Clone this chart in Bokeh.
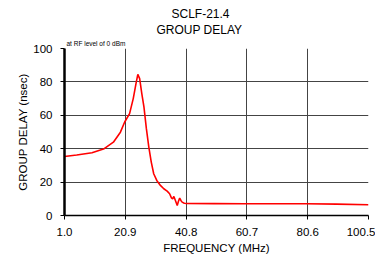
from bokeh.plotting import figure
from bokeh.models import Range1d, FixedTicker, Title, CustomJSTickFormatter
from bokeh.embed import file_html
from bokeh.resources import INLINE

freq = [1.0, 5.0, 10.0, 14.0, 17.0, 19.3, 20.7, 22.3, 23.5, 24.4, 25.0, 25.6, 26.3, 27.0,
        27.8, 28.6, 29.4, 30.2, 31.2, 32.4, 33.5, 34.6, 35.4, 36.0, 36.4, 36.8, 37.3,
        37.9, 38.3, 38.7, 39.1, 39.5, 40.2, 40.9, 50.0, 60.0, 70.0, 80.0, 90.0, 100.5]
delay = [35.3, 36.2, 37.6, 40.0, 43.9, 49.9, 56.0, 61.0, 70.0, 79.0, 84.5, 82.0, 73.0, 65.0,
         52.0, 41.0, 32.0, 25.0, 21.0, 18.0, 16.0, 14.6, 13.0, 10.6, 10.0, 11.4, 9.0,
         6.0, 8.5, 10.4, 9.0, 8.0, 7.3, 7.2, 7.1, 7.0, 7.0, 7.0, 6.8, 6.4]
x_ticks = [1.0, 20.9, 40.8, 60.7, 80.6, 100.5]
y_ticks = [0, 20, 40, 60, 80, 100]

FONT = "Liberation Sans"

p = figure(width=375, height=257, output_backend="svg", toolbar_location=None,
           x_range=Range1d(1.0, 100.5), y_range=Range1d(0, 100),
           min_border_left=64, min_border_right=7, min_border_top=48, min_border_bottom=42)
p.outline_line_color = None
p.background_fill_color = "white"
p.border_fill_color = "white"

p.line(freq, delay, line_color="#ff0000", line_width=1.6)

p.xaxis.ticker = FixedTicker(ticks=x_ticks)
p.yaxis.ticker = FixedTicker(ticks=y_ticks)
p.xaxis.formatter = CustomJSTickFormatter(code="return tick.toFixed(1);")
p.xgrid.ticker = FixedTicker(ticks=x_ticks)
p.ygrid.ticker = FixedTicker(ticks=y_ticks)
for g in (p.xgrid, p.ygrid):
    g.grid_line_color = "#444444"
    g.grid_line_width = 1
    g.grid_line_alpha = 1.0

for ax in (p.xaxis, p.yaxis):
    ax.major_label_text_font = FONT
    ax.major_label_text_font_size = "11.5px"
    ax.major_label_text_color = "black"
    ax.axis_label_text_font = FONT
    ax.axis_label_text_font_size = "11.5px"
    ax.axis_label_text_font_style = "normal"
    ax.axis_label_text_color = "black"
    ax.minor_tick_line_color = None
    ax.major_tick_in = 0
    ax.major_tick_out = 4
    ax.major_tick_line_color = "black"

p.yaxis.axis_line_width = 2.5
p.yaxis.axis_line_color = "black"
p.xaxis.axis_line_width = 1.5
p.xaxis.axis_line_color = "black"
p.xaxis.axis_label = "FREQUENCY (MHz)"
p.yaxis.axis_label = "GROUP DELAY (nsec)"
p.xaxis.major_label_standoff = 8
p.xaxis.axis_label_standoff = 3
p.yaxis.major_label_standoff = 8
p.yaxis.axis_label_standoff = 1

p.add_layout(Title(text="at RF level of 0 dBm", align="left", offset=2, standoff=3,
                   text_font=FONT, text_font_size="6.5px", text_font_style="normal",
                   text_color="black"), "above")
p.add_layout(Title(text="GROUP DELAY", align="left", offset=92, standoff=0,
                   text_font=FONT, text_font_size="12px", text_font_style="normal",
                   text_color="black"), "above")
p.add_layout(Title(text="SCLF-21.4", align="left", offset=107, standoff=0,
                   text_font=FONT, text_font_size="12px", text_font_style="normal",
                   text_color="black"), "above")

open("out.html", "w").write(file_html(p, INLINE))
